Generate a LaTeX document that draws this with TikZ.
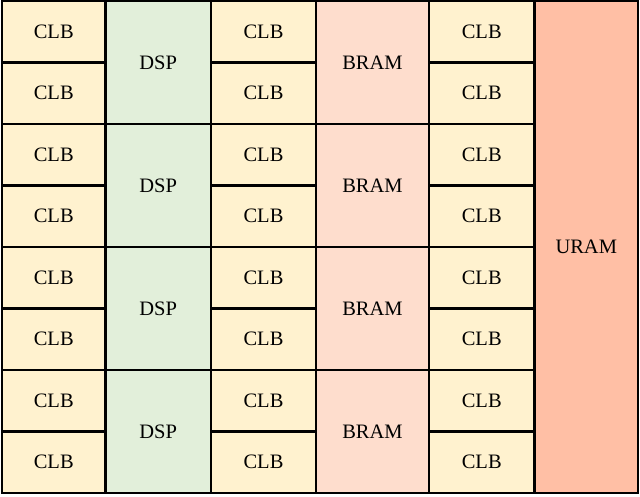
\documentclass[tikz,border=0pt]{standalone}
\usepackage{fontspec}
\setmainfont{Liberation Serif}
\definecolor{clbc}{HTML}{FFF2CF}
\definecolor{dspc}{HTML}{E2EFDA}
\definecolor{bramc}{HTML}{FEDDCD}
\definecolor{uramc}{HTML}{FFBFA5}
\begin{document}
\begin{tikzpicture}[x=1pt,y=-1pt,
  blk/.style={draw=black,line width=2.3pt,font=\fontsize{20.5}{24}\selectfont,text=black},
  clb/.style={blk,fill=clbc},
  dsp/.style={blk,fill=dspc},
  bram/.style={blk,fill=bramc},
  uram/.style={blk,fill=uramc}]
\useasboundingbox (0,0) rectangle (640,496);
\def\rh{61.5}
\foreach \i in {0,...,7}{
  \pgfmathsetmacro{\ya}{1+\i*\rh}
  \pgfmathsetmacro{\yb}{1+(\i+1)*\rh}
  \draw[clb] (2,\ya) rectangle (105.5,\yb) node[midway] (clbA\i) {CLB};
  \draw[clb] (211,\ya) rectangle (316,\yb) node[midway] (clbB\i) {CLB};
  \draw[clb] (429,\ya) rectangle (534.5,\yb) node[midway] (clbC\i) {CLB};
}
\foreach \i in {0,...,3}{
  \pgfmathsetmacro{\ya}{1+2*\i*\rh}
  \pgfmathsetmacro{\yb}{1+(2*\i+2)*\rh}
  \draw[dsp] (105.5,\ya) rectangle (211,\yb) node[midway] (dsp\i) {DSP};
  \draw[bram] (316,\ya) rectangle (429,\yb) node[midway] (bram\i) {BRAM};
}
\draw[uram] (534.5,1) rectangle (638,493) node[midway] (uram) {URAM};
\end{tikzpicture}
\end{document}
